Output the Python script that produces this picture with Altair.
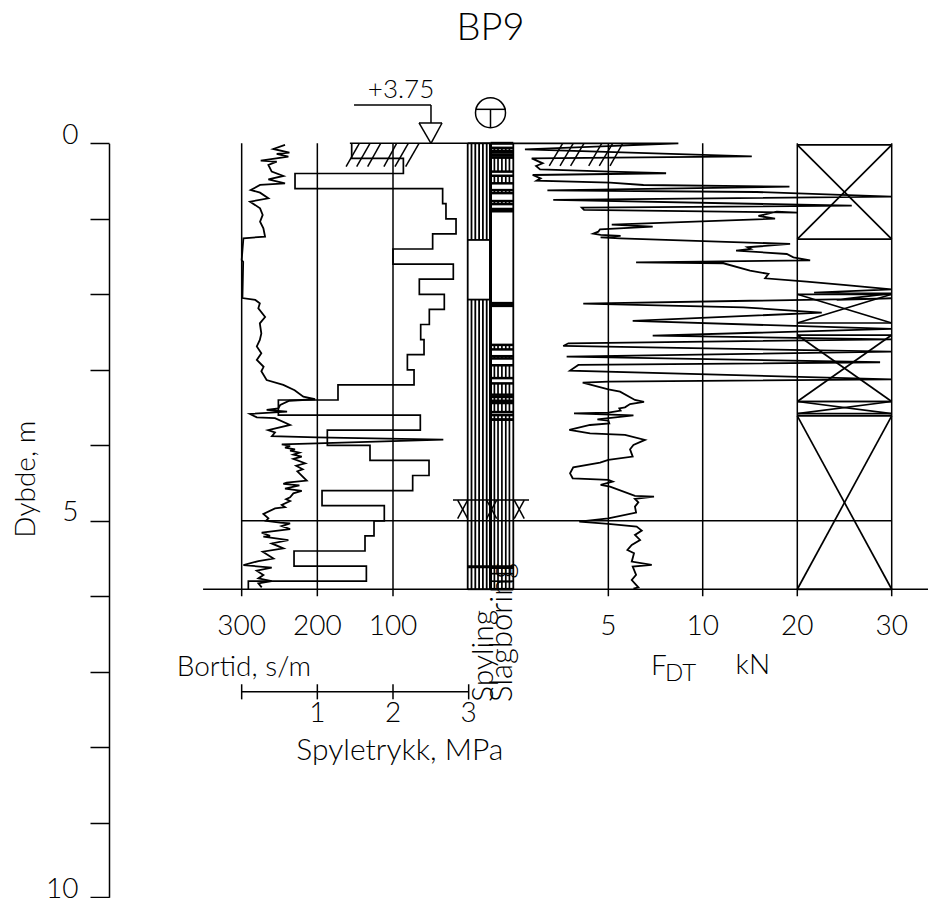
import altair as alt
import pandas as pd

# ---- readings -------------------------------------------------------------
bortid_depth = [0.022,0.075,0.124,0.141,0.177,0.23,0.243,0.287,0.375,0.433,0.477,0.53,0.552,0.618,0.654,0.729,0.773,0.861,0.949,1.038,1.126,1.236,1.258,1.545,1.57,2.05,2.075,2.12,2.185,2.30,2.385,2.52,2.605,2.69,2.78,2.87,2.96,3.02,3.135,3.20,3.27,3.355,3.39,3.41,3.465,3.51,3.53,3.555,3.585,3.63,3.64,3.73,3.80,3.83,3.88,3.895,3.925,3.975,3.987,4.009,4.03,4.053,4.07,4.097,4.124,4.15,4.18,4.238,4.27,4.318,4.344,4.468,4.494,4.512,4.53,4.574,4.605,4.636,4.689,4.715,4.738,4.79,4.82,4.835,4.91,4.968,5.0,5.025,5.034,5.07,5.109,5.158,5.2,5.21,5.255,5.30,5.365,5.409,5.50,5.533,5.586,5.621,5.661,5.718,5.763,5.798,5.829,5.882]
bortid_value = [242.7,258.1,236.9,253.7,238.3,274.8,253.7,264.7,260.3,244.9,264.7,242.7,275.7,288,275.7,264.7,288.9,275.7,272.2,275.7,271.3,269.1,297.7,300,298,299,282,276,278,269,276,274,276,280,274,280,271,274,267,245,230,218.5,203,237,249,251.5,267,240,289,280,256,236,265,256,260,201,33.5,201,247,236,242.7,229.5,236,223.7,231.7,220.6,231.7,216.2,228,219.3,226.4,214,240.5,244.9,223.7,242.7,220.6,231.7,236,241.3,236,247,242.7,255.9,271.3,264.7,267.8,249.3,236,247,236,273.5,262.5,271.3,238.3,260.3,244.9,272.2,258,277.9,297.7,260.3,280.1,271.3,277.9,260.3,277.9,273.5]

spyle_edges = [0,0.2,0.4,0.6,0.8,1.0,1.2,1.4,1.6,1.8,2.0,2.2,2.4,2.6,2.8,3.0,3.2,3.4,3.6,3.8,4.0,4.2,4.4,4.6,4.8,5.0,5.2,5.4,5.6,5.8,5.907]
spyle_mpa = [1.454,2.137,0.705,2.656,2.70,2.833,2.524,2.0,2.797,2.348,2.678,2.48,2.366,2.41,2.19,2.278,1.273,0.485,2.361,1.132,1.696,2.476,2.26,1.062,1.885,1.749,1.63,0.692,1.648,0.088]

force_kn = [0,8.71,0.58,15.19,0.94,1.52,1.17,1.38,5.09,8.06,0.99,1.41,1.2,5.09,6.86,19.17,1.77,15.71,30,2.08,25.77,3.59,3.71,20.02,17.83,15.89,17.65,5.18,7.35,4.56,4.47,4.2,4.59,5.65,4.59,5.62,19.24,14.73,15.08,13.53,18.89,19.59,21.36,6.47,12.19,15.0,16.95,16.6,21.0,24.89,30,21.78,30,24.18,30,3.67,14.3,22.59,6.29,30,7.35,30,2.88,2.61,30,2.79,28.77,3.41,2.97,30,5.0,3.64,5.0,5.62,6.41,6.89,6.15,5.88,5.58,5.65,5,3.18,6.33,4.42,5,5.05,4.03,2.93,4.03,5.88,6.94,6.33,6.15,6.29,5,4.56,3.14,2.97,3.11,5,5.23,4.59,5.09,6.41,7.42,6.41,6.59,6.41,6.47,5,3.46,5,6.5,6.77,6.41,6.68,6.24,6.01,6.36,6.24,7.3,6.29,6.47,6.24,6.59,6.33]
force_depth = [0,0,0.08,0.172,0.20,0.265,0.30,0.345,0.375,0.397,0.42,0.464,0.494,0.52,0.552,0.574,0.623,0.645,0.706,0.75,0.826,0.852,0.883,0.918,0.905,0.962,0.998,1.077,1.104,1.139,1.17,1.196,1.214,1.227,1.245,1.258,1.333,1.377,1.40,1.421,1.466,1.51,1.55,1.576,1.589,1.687,1.73,1.788,1.832,1.876,1.934,1.978,1.987,2.075,2.053,2.124,2.172,2.243,2.353,2.459,2.547,2.596,2.649,2.684,2.759,2.826,2.90,2.936,3.011,3.126,3.157,3.17,3.258,3.289,3.40,3.426,3.453,3.497,3.51,3.541,3.567,3.576,3.603,3.656,3.673,3.709,3.731,3.797,3.841,3.863,3.929,3.996,4.053,4.15,4.194,4.23,4.291,4.371,4.437,4.459,4.481,4.525,4.547,4.671,4.68,4.711,4.755,4.812,4.892,4.967,5.011,5.042,5.077,5.13,5.188,5.254,5.32,5.386,5.43,5.541,5.585,5.607,5.717,5.784,5.881,5.898]

box_intervals = [(0.02,1.27),(2.0,2.38),(2.54,3.42),(3.42,3.58),(3.61,5.907)]
spyling_intervals = [(0,1.28),(2.07,5.907)]
slag_hatch = [(0.06,0.10),(0.19,0.375),(0.43,0.53),(0.62,0.66),(0.765,0.805),(0.87,0.90),(2.67,2.73),(2.82,2.85),(2.94,3.11),(3.18,3.33),(3.36,3.41),(3.44,3.56),(3.60,3.66),(3.66,5.62),(5.62,5.907)]
slag_thick = [0.0,0.12,0.16,2.12,2.15]
slag_grid = [5.7,5.8,5.9]
ground_left = [(144.5,162),(130.4,148),(116.3,133.5),(95.2,112),(79.8,97.4),(65.6,83.3)]
ground_right = [(2.58,1.87),(3.14,2.44),(3.71,3.0),(4.65,3.96),(5.23,4.52),(5.76,5.09)]
bortid_ticks = [300,200,100]
force_ticks = [5,10,20,30]
mpa_ticks = [0,1,2,3]

FONT = "Lato"
WEIGHT = 300
SZ = 28
# ---- scales ----------------------------------------------------------------
Y = alt.Scale(domain=[0,9,10], range=[135.3,814.8,889.3])
XB = alt.Scale(domain=[300,0], range=[233.67,460.67])
XM = alt.Scale(domain=[0,3], range=[233.67,460.67])
XF = alt.Scale(domain=[0,10,20,30], range=[506,694.7,789.3,883.7])
XC = alt.Scale(domain=[0,2], range=[459.7,505.3])

y_axis = alt.Axis(values=list(range(11)), labelExpr="datum.value % 5 == 0 ? datum.label : ''",
                  offset=-101, tickSize=19, tickWidth=1.5, domainWidth=1.5, domainColor='black', tickColor='black',
                  labelFont=FONT, labelFontWeight=WEIGHT, labelFontSize=SZ, labelColor='black', labelPadding=12,
                  labelBaseline='alphabetic', grid=False, title=None)

def y_enc():
    return alt.Y('d:Q', scale=Y, axis=y_axis)

def seg(rows, scale, sw=1.5):
    df = pd.DataFrame(rows, columns=['x','x2','d','d2'])
    return alt.Chart(df).mark_rule(color='black', strokeWidth=sw).encode(
        x=alt.X('x:Q', scale=scale, axis=None), x2='x2:Q', y=y_enc(), y2='d2:Q')

def curve(xs, ds, scale, sw=1.5):
    df = pd.DataFrame({'x':xs,'d':ds,'i':range(len(xs))})
    return alt.Chart(df).mark_line(color='black', strokeWidth=sw, strokeJoin='miter').encode(
        x=alt.X('x:Q', scale=scale, axis=None), y=y_enc(), order='i:Q')

def txt(label, x, d, scale, size=SZ, align='center', angle=0):
    df = pd.DataFrame({'x':[x],'d':[d],'t':[label]})
    return alt.Chart(df).mark_text(font=FONT, fontWeight=WEIGHT, fontSize=size, align=align, baseline='middle', angle=angle, color='black').encode(
        x=alt.X('x:Q', scale=scale, axis=None), y=y_enc(), text='t:N')

layers = []
layers.append(seg([(v,v,0,6.0) for v in bortid_ticks], XB))
layers.append(seg([(v,v,0,6.0) for v in force_ticks], XF))
# reference lines
layers.append(seg([(351,-617,5.907,5.907),(300,-559,5.0,5.0),(157,-60,0,0)], XB))
# flush pressure, drilling time, force curves
sp_x, sp_d = [], []
for i, m in enumerate(spyle_mpa):
    sp_x += [m, m]; sp_d += [spyle_edges[i], spyle_edges[i+1]]
layers.append(curve(sp_x, sp_d, XM, sw=1.7))
layers.append(curve(bortid_value, bortid_depth, XB, sw=1.8))
layers.append(curve(force_kn, force_depth, XF, sw=1.8))
# boxes with crosses
box = []
for a, b in box_intervals:
    box += [(20,30,a,a),(20,30,b,b),(20,30,a,b),(30,20,a,b)]
layers.append(seg(box, XF, sw=1.7))
# Spyling column
col = [(0,0,0,5.907),(1,1,0,5.907),(2,2,0,5.907)]
for a, b in spyling_intervals:
    col += [(f,f,a,b) for f in (1/6,2/6,3/6,4/6,5/6)] + [(0,1,a,a),(0,1,b,b)]
layers.append(seg(col, XC, sw=1.8))
hatch, bands = [], []
for a, b in slag_hatch:
    hatch += [(f,f,a,b) for f in (1.17,1.33,1.5,1.67,1.83)]
    bands += [(1,2,a,a),(1,2,b,b)]
for g in slag_grid:
    hatch.append((1,2,g,g))
layers.append(seg(hatch, XC, sw=1.7))
layers.append(seg(bands, XC, sw=2.5))
layers.append(seg([(1,1,0,5.907)], XC, sw=3))
layers.append(seg([(1,2,t,t) for t in slag_thick] + [(0,2,5.61,5.61)], XC, sw=3))
# ground hatching
layers.append(seg([(a,b,0,0.309) for a, b in ground_left], XB))
layers.append(seg([(a,b,0,0.30) for a, b in ground_right], XF))
# level marker
layers.append(seg([(151.5,49.8,-0.507,-0.507),(49.8,49.8,-0.507,-0.269),(65.6,35.2,-0.269,-0.269),(65.6,49.8,-0.269,0),(35.2,49.8,-0.269,0)], XB))
layers.append(txt('+3.75', 89.4, -0.70, XB, size=26))
# boring symbol
layers.append(alt.Chart(pd.DataFrame({'x':[1.0],'d':[-0.405]})).mark_point(shape='circle', size=900, filled=False, color='black', strokeWidth=1.5, opacity=1).encode(
    x=alt.X('x:Q', scale=XC, axis=None), y=y_enc()))
layers.append(seg([(0.36,1.68,-0.45,-0.45),(1,1,-0.45,-0.205)], XC))
# end-of-hole crosses
ex = [(-0.645,2.69,4.725,4.725)]
for c in (-0.22,1.05,2.26):
    ex += [(c-0.22,c+0.22,4.725,4.97),(c+0.22,c-0.22,4.725,4.97)]
layers.append(seg(ex, XC))
# lower scale
layers.append(seg([(0,3,7.263,7.263)] + [(m,m,7.165,7.365) for m in mpa_ticks], XM))
for m in (1,2,3):
    layers.append(txt(str(m), m, 7.56, XM))
layers.append(txt('Spyletrykk, MPa', 2.09, 8.05, XM, size=30))
for v in bortid_ticks:
    layers.append(txt(str(v), v, 6.41, XB))
for v in force_ticks:
    layers.append(txt(str(v), v, 6.41, XF))
layers.append(txt('Bortid, s/m', 297, 6.95, XB))
layers.append(txt('F', 7.26, 6.93, XF, align='left'))
layers.append(txt('DT', 8.0, 7.03, XF, size=24, align='left'))
layers.append(txt('kN', 15.3, 6.92, XF))
layers.append(txt('Spyling', 0.72, 7.4, XC, size=30, align='left', angle=270))
layers.append(txt('Slagboring', 1.55, 7.4, XC, size=31, align='left', angle=270))
layers.append(txt('Dybde, m', 584, 4.45, XB, angle=270))
layers.append(txt('BP9', 1.0, -1.52, XC, size=38))

chart = alt.layer(*layers).resolve_scale(x='independent').properties(
    width=920, height=890, padding=0, autosize=alt.AutoSizeParams(type='none'),
    background='white').configure_view(stroke=None)
chart.save("out.html", embed_options={"renderer": "svg", "actions": False})
